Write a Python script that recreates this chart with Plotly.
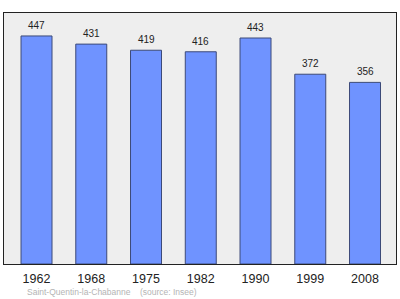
import plotly.graph_objects as go

years = ["1962", "1968", "1975", "1982", "1990", "1999", "2008"]
population = [447, 431, 419, 416, 443, 372, 356]
source_text = "Saint-Quentin-la-Chabanne    (source: Insee)"

xs = list(range(len(years)))

fig = go.Figure()
fig.add_trace(go.Bar(
    x=xs, y=population, width=0.566,
    marker=dict(color="#6f93ff", line=dict(color="#3c4a78", width=1)),
    hoverinfo="skip",
))

for x, v in zip(xs, population):
    fig.add_annotation(x=x, y=v, text=str(v), showarrow=False, xref="x", yref="y",
                       yanchor="bottom", yshift=3,
                       font=dict(family="Liberation Sans, Arial", size=10, color="#222222"))

fig.add_annotation(x=(25 - 4) / 392, y=0, xref="paper", yref="paper", text=source_text,
                   showarrow=False, xanchor="left", yanchor="middle", yshift=-28,
                   font=dict(family="Liberation Sans, Arial", size=8.5, color="#b4b4b4"))

fig.update_layout(
    width=400, height=299,
    margin=dict(l=4, r=4, t=13, b=35),
    paper_bgcolor="white", plot_bgcolor="#eeeeee",
    showlegend=False,
    font=dict(family="Liberation Sans, Arial", color="#222222"),
    xaxis=dict(range=[-0.594, 6.566], tickvals=xs, ticktext=years, showgrid=False,
               zeroline=False, showline=True, linecolor="#222222", linewidth=1, mirror=True,
               ticks="", ticklabelstandoff=3, tickfont=dict(size=12.5, color="#222222"),
               fixedrange=True),
    yaxis=dict(range=[0, 492], showticklabels=False, showgrid=False, zeroline=False,
               showline=True, linecolor="#222222", linewidth=1, mirror=True, ticks="",
               fixedrange=True),
)

fig.write_html("out.html")
